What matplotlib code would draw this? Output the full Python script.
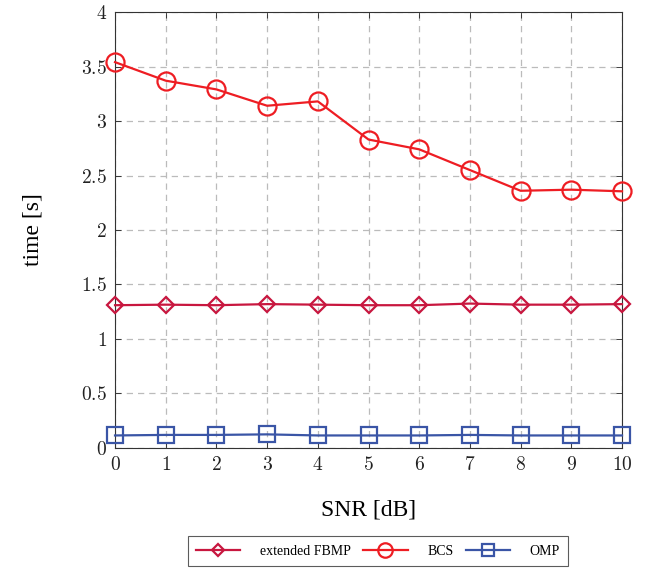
import numpy
import matplotlib
matplotlib.use('Agg')
import matplotlib.pyplot as plt

# Data
snr_db = [0, 1, 2, 3, 4, 5, 6, 7, 8, 9, 10]
time_fbmp = [1.31, 1.315, 1.31, 1.32, 1.315, 1.31, 1.31, 1.325, 1.315, 1.315, 1.32]
time_bcs = [3.54, 3.37, 3.29, 3.14, 3.18, 2.83, 2.74, 2.55, 2.36, 2.37, 2.355]
time_omp = [0.115, 0.12, 0.12, 0.125, 0.115, 0.115, 0.115, 0.12, 0.115, 0.115, 0.115]
y_ticks = [0, 0.5, 1, 1.5, 2, 2.5, 3, 3.5, 4]

plt.rcParams['font.family'] = ['Liberation Serif', 'DejaVu Serif']
plt.rcParams['mathtext.fontset'] = 'cm'

fig = plt.figure(figsize=(6.51, 5.72), dpi=100)
axs = fig.add_axes([0.1767, 0.2168, 0.7788, 0.7622])

axs.plot(snr_db, time_fbmp, color='#c8173f', marker='D', markersize=8,
         markerfacecolor='none', markeredgewidth=1.6, linewidth=1.6,
         label='extended FBMP', clip_on=False, zorder=3)
axs.plot(snr_db, time_bcs, color='#ee1d23', marker='o', markersize=13,
         markerfacecolor='none', markeredgewidth=1.6, linewidth=1.6,
         label='BCS', clip_on=False, zorder=3)
axs.plot(snr_db, time_omp, color='#3a55a6', marker='s', markersize=11.5,
         markerfacecolor='none', markeredgewidth=1.6, linewidth=1.6,
         label='OMP', clip_on=False, zorder=3)

axs.set_xlim(0, 10)
axs.set_ylim(0, 4)
axs.set_xticks(snr_db)
axs.set_yticks(y_ticks)
axs.set_xticklabels(['$%d$' % v for v in snr_db])
axs.set_yticklabels(['$%g$' % v for v in y_ticks])
axs.tick_params(direction='in', length=4, width=0.6, top=True, right=True,
                labelsize=14, pad=6, colors='#222222')

axs.grid(True, linestyle=(0, (5, 4)), color='#bbbbbb', linewidth=0.9)
axs.set_axisbelow(True)
for spine in axs.spines.values():
    spine.set_linewidth(0.8)
    spine.set_color('#333333')

axs.set_xlabel('SNR [dB]', fontsize=17, labelpad=18)
axs.set_ylabel('time [s]', fontsize=17, labelpad=27)

leg = fig.legend(loc='lower center', bbox_to_anchor=(0.5806, 0.0105), ncol=3,
                 fontsize=10, fancybox=False, edgecolor='#333333',
                 markerscale=0.8, handlelength=3.2, columnspacing=0.9,
                 handletextpad=1.4, borderpad=0.6, borderaxespad=0)
leg.get_frame().set_linewidth(0.8)

plt.savefig('out.png', dpi=100)
